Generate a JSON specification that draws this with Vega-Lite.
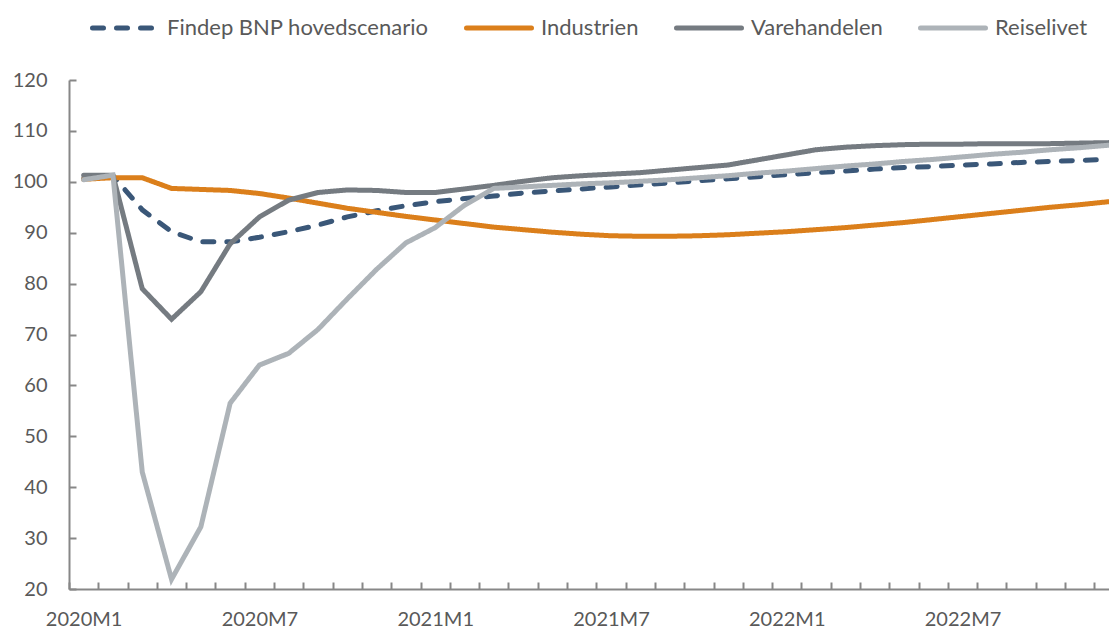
{
  "$schema": "https://vega.github.io/schema/vega-lite/v6.json",
  "width": 1040,
  "height": 509,
  "autosize": {"type": "none"},
  "padding": {"left": 69, "top": 80, "right": 0, "bottom": 40},
  "config": {"view": {"stroke": null}, "font": "Lato"},
  "data": {"values": [
    {"m": 0, "Findep BNP hovedscenario": 100.6, "Industrien": 100.5, "Varehandelen": 101.3, "Reiselivet": 100.4},
    {"m": 1, "Findep BNP hovedscenario": 101.2, "Industrien": 100.8, "Varehandelen": 101.3, "Reiselivet": 101.3},
    {"m": 2, "Findep BNP hovedscenario": 94.5, "Industrien": 100.8, "Varehandelen": 79.0, "Reiselivet": 43.0},
    {"m": 3, "Findep BNP hovedscenario": 90.2, "Industrien": 98.7, "Varehandelen": 73.0, "Reiselivet": 21.9},
    {"m": 4, "Findep BNP hovedscenario": 88.2, "Industrien": 98.5, "Varehandelen": 78.4, "Reiselivet": 32.2},
    {"m": 5, "Findep BNP hovedscenario": 88.2, "Industrien": 98.3, "Varehandelen": 87.8, "Reiselivet": 56.5},
    {"m": 6, "Findep BNP hovedscenario": 89.1, "Industrien": 97.7, "Varehandelen": 93.1, "Reiselivet": 64.0},
    {"m": 7, "Findep BNP hovedscenario": 90.2, "Industrien": 96.8, "Varehandelen": 96.4, "Reiselivet": 66.3},
    {"m": 8, "Findep BNP hovedscenario": 91.5, "Industrien": 95.8, "Varehandelen": 97.9, "Reiselivet": 71.0},
    {"m": 9, "Findep BNP hovedscenario": 93.1, "Industrien": 94.8, "Varehandelen": 98.4, "Reiselivet": 77.0},
    {"m": 10, "Findep BNP hovedscenario": 94.3, "Industrien": 94.0, "Varehandelen": 98.3, "Reiselivet": 82.8},
    {"m": 11, "Findep BNP hovedscenario": 95.3, "Industrien": 93.2, "Varehandelen": 97.9, "Reiselivet": 88.0},
    {"m": 12, "Findep BNP hovedscenario": 96.1, "Industrien": 92.5, "Varehandelen": 97.9, "Reiselivet": 91.0},
    {"m": 13, "Findep BNP hovedscenario": 96.7, "Industrien": 91.8, "Varehandelen": 98.6, "Reiselivet": 95.4},
    {"m": 14, "Findep BNP hovedscenario": 97.2, "Industrien": 91.1, "Varehandelen": 99.3, "Reiselivet": 98.7},
    {"m": 15, "Findep BNP hovedscenario": 97.8, "Industrien": 90.6, "Varehandelen": 100.1, "Reiselivet": 99.0},
    {"m": 16, "Findep BNP hovedscenario": 98.2, "Industrien": 90.1, "Varehandelen": 100.8, "Reiselivet": 99.3},
    {"m": 17, "Findep BNP hovedscenario": 98.6, "Industrien": 89.7, "Varehandelen": 101.2, "Reiselivet": 99.6},
    {"m": 18, "Findep BNP hovedscenario": 99.0, "Industrien": 89.4, "Varehandelen": 101.5, "Reiselivet": 99.8},
    {"m": 19, "Findep BNP hovedscenario": 99.4, "Industrien": 89.3, "Varehandelen": 101.8, "Reiselivet": 100.1},
    {"m": 20, "Findep BNP hovedscenario": 99.8, "Industrien": 89.3, "Varehandelen": 102.3, "Reiselivet": 100.4},
    {"m": 21, "Findep BNP hovedscenario": 100.2, "Industrien": 89.4, "Varehandelen": 102.8, "Reiselivet": 100.8},
    {"m": 22, "Findep BNP hovedscenario": 100.6, "Industrien": 89.6, "Varehandelen": 103.3, "Reiselivet": 101.2},
    {"m": 23, "Findep BNP hovedscenario": 101.0, "Industrien": 89.9, "Varehandelen": 104.3, "Reiselivet": 101.7},
    {"m": 24, "Findep BNP hovedscenario": 101.4, "Industrien": 90.2, "Varehandelen": 105.3, "Reiselivet": 102.1},
    {"m": 25, "Findep BNP hovedscenario": 101.8, "Industrien": 90.6, "Varehandelen": 106.3, "Reiselivet": 102.6},
    {"m": 26, "Findep BNP hovedscenario": 102.1, "Industrien": 91.0, "Varehandelen": 106.8, "Reiselivet": 103.1},
    {"m": 27, "Findep BNP hovedscenario": 102.5, "Industrien": 91.5, "Varehandelen": 107.1, "Reiselivet": 103.5},
    {"m": 28, "Findep BNP hovedscenario": 102.8, "Industrien": 92.0, "Varehandelen": 107.3, "Reiselivet": 104.0},
    {"m": 29, "Findep BNP hovedscenario": 103.0, "Industrien": 92.6, "Varehandelen": 107.4, "Reiselivet": 104.4},
    {"m": 30, "Findep BNP hovedscenario": 103.3, "Industrien": 93.2, "Varehandelen": 107.4, "Reiselivet": 104.9},
    {"m": 31, "Findep BNP hovedscenario": 103.5, "Industrien": 93.8, "Varehandelen": 107.5, "Reiselivet": 105.4},
    {"m": 32, "Findep BNP hovedscenario": 103.8, "Industrien": 94.4, "Varehandelen": 107.5, "Reiselivet": 105.8},
    {"m": 33, "Findep BNP hovedscenario": 104.0, "Industrien": 95.0, "Varehandelen": 107.5, "Reiselivet": 106.3},
    {"m": 34, "Findep BNP hovedscenario": 104.2, "Industrien": 95.5, "Varehandelen": 107.6, "Reiselivet": 106.7},
    {"m": 35, "Findep BNP hovedscenario": 104.4, "Industrien": 96.1, "Varehandelen": 107.7, "Reiselivet": 107.2}
  ]},
  "transform": [
    {"fold": ["Findep BNP hovedscenario", "Industrien", "Varehandelen", "Reiselivet"], "as": ["serie", "v"]}
  ],
  "resolve": {"axis": {"x": "independent", "y": "independent"}},
  "layer": [
    {
      "mark": {"type": "line", "strokeWidth": 5, "strokeCap": "round", "clip": false},
      "encoding": {
        "x": {
          "field": "m", "type": "quantitative",
          "scale": {"domain": [-0.5, 35], "nice": false, "zero": false},
          "axis": {
            "orient": "bottom", "title": null, "values": [0, 6, 12, 18, 24, 30],
            "labelExpr": "(2020 + floor(datum.value / 12)) + 'M' + (datum.value % 12 + 1)",
            "ticks": false, "grid": false, "domain": true, "domainColor": "#878787", "domainWidth": 2,
            "labelFontSize": 20, "labelColor": "#595959", "labelPadding": 20, "labelFont": "Lato"
          }
        },
        "y": {
          "field": "v", "type": "quantitative",
          "scale": {"domain": [20, 120], "nice": false, "zero": false},
          "axis": {
            "orient": "left", "title": null, "values": [20, 30, 40, 50, 60, 70, 80, 90, 100, 110, 120],
            "ticks": false, "grid": false, "domain": true, "domainColor": "#878787", "domainWidth": 2,
            "labelFontSize": 20, "labelColor": "#595959", "labelPadding": 22, "labelFont": "Lato"
          }
        },
        "color": {
          "field": "serie", "type": "nominal",
          "scale": {
            "domain": ["Findep BNP hovedscenario", "Industrien", "Varehandelen", "Reiselivet"],
            "range": ["#3A5778", "#DB7F1B", "#757B81", "#ADB3B8"]
          },
          "legend": {
            "title": null, "orient": "none", "legendX": 21, "legendY": -87,
            "direction": "horizontal", "columns": 4,
            "symbolType": "stroke", "symbolSize": 4225, "symbolStrokeWidth": 5,
            "labelFontSize": 22, "labelColor": "#595959", "labelOffset": 7, "columnPadding": 27,
            "labelFont": "Lato", "labelLimit": 400,
            "encode": {"symbols": {"update": {
              "strokeCap": {"value": "round"}
            }}}
          }
        },
        "strokeDash": {
          "field": "serie", "type": "nominal",
          "scale": {
            "domain": ["Findep BNP hovedscenario", "Industrien", "Varehandelen", "Reiselivet"],
            "range": [[11, 13], [1, 0], [1, 0], [1, 0]]
          },
          "legend": {
            "title": null, "orient": "none", "legendX": 21, "legendY": -87,
            "direction": "horizontal", "columns": 4,
            "symbolType": "stroke", "symbolSize": 4225, "symbolStrokeWidth": 5,
            "labelFontSize": 22, "labelColor": "#595959", "labelOffset": 7, "columnPadding": 27,
            "labelFont": "Lato", "labelLimit": 400,
            "encode": {"symbols": {"update": {
              "strokeCap": {"value": "round"}
            }}}
          }
        },
        "order": {"field": "m", "type": "quantitative"}
      }
    },
    {
      "mark": {"type": "point", "opacity": 0},
      "encoding": {
        "x": {
          "field": "m", "type": "quantitative",
          "axis": {
            "orient": "bottom", "title": null,
            "values": [-0.5, 0.5, 1.5, 2.5, 3.5, 4.5, 5.5, 6.5, 7.5, 8.5, 9.5, 10.5, 11.5, 12.5, 13.5, 14.5, 15.5, 16.5, 17.5, 18.5, 19.5, 20.5, 21.5, 22.5, 23.5, 24.5, 25.5, 26.5, 27.5, 28.5, 29.5, 30.5, 31.5, 32.5, 33.5, 34.5],
            "labels": false, "domain": false, "grid": false,
            "ticks": true, "tickSize": -7, "tickColor": "#878787", "tickWidth": 2
          }
        },
        "y": {
          "field": "v", "type": "quantitative",
          "axis": {
            "orient": "left", "title": null, "values": [20, 30, 40, 50, 60, 70, 80, 90, 100, 110, 120],
            "labels": false, "domain": false, "grid": false,
            "ticks": true, "tickSize": -7, "tickColor": "#878787", "tickWidth": 2
          }
        }
      }
    }
  ]
}
